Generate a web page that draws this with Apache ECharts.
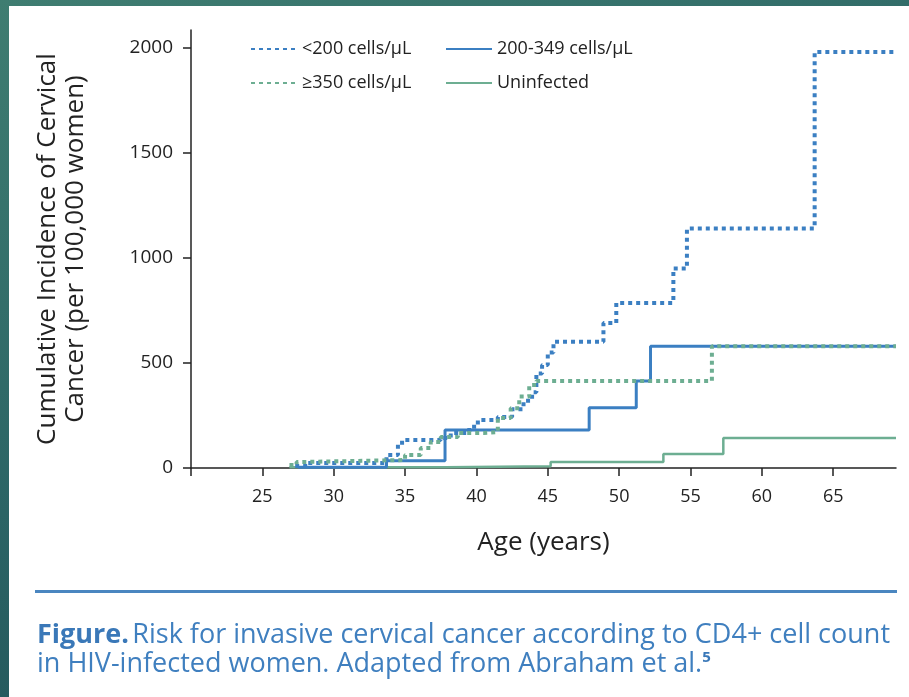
<!DOCTYPE html>
<html>
<head>
<meta charset="utf-8">
<script src="https://cdn.jsdelivr.net/npm/echarts@6/dist/echarts.min.js"></script>
<style>
  html, body { margin: 0; padding: 0; width: 909px; height: 697px; overflow: hidden;
    background: linear-gradient(160deg, #3f7d71 0%, #2b6465 50%, #1d4b52 100%); }
  #chart { position: absolute; left: 9px; top: 6px; width: 900px; height: 691px; background: #ffffff; }
</style>
</head>
<body>
<div id="chart"></div>
<script>
// ---- data ----
const seriesNames = ['<200 cells/\u03bcL', '200-349 cells/\u03bcL', '\u2265350 cells/\u03bcL', 'Uninfected'];
// [age, cumulative incidence per 100,000] step points (value holds from that age on)
const below200 = [[27.3, 10], [28.0, 24], [33.7, 62], [34.5, 120], [35.0, 133], [37.5, 143], [38.2, 167], [39.5, 196],
  [40.1, 228], [41.5, 243], [42.5, 280], [43.3, 320], [43.9, 360], [44.2, 450], [44.6, 490], [45.0, 550],
  [45.4, 601], [48.9, 690], [49.8, 786], [53.8, 950], [54.75, 1140], [63.7, 1980], [69.4, 1980]];
const mid200to349 = [[27.5, 3], [33.7, 35], [37.8, 181], [47.9, 287], [51.2, 414], [52.2, 580], [69.4, 580]];
const above350 = [[26.9, 14], [27.4, 29], [28.0, 38], [35.0, 62], [36.1, 95], [36.8, 124], [37.5, 148], [38.7, 167],
  [40.5, 171], [41.5, 238], [42.4, 285], [43.0, 340], [43.7, 395], [44.2, 414], [56.5, 580], [69.4, 580]];
const uninfected = [[26.9, 3], [37.8, 8], [45.2, 28], [53.1, 67], [57.3, 143], [69.4, 143]];
const xTickValues = [20, 25, 30, 35, 40, 45, 50, 55, 60, 65];
const xLabelValues = [25, 30, 35, 40, 45, 50, 55, 60, 65];
const yTickValues = [0, 500, 1000, 1500, 2000];
const xAxisName = 'Age (years)';
const yAxisName = 'Cumulative Incidence of Cervical\nCancer (per 100,000 women)';

const BLUE = '#3b7fc2';
const GREEN = '#6dae92';
const FONT = '"Open Sans", sans-serif';

const chart = echarts.init(document.getElementById('chart'), null, { renderer: 'canvas' });

function legendAt(name, left, top) {
  return {
    data: [name], left: left, top: top, itemWidth: 46, itemHeight: 14, itemGap: 0,
    itemStyle: { opacity: 0 },
    textStyle: { fontFamily: FONT, fontSize: 18, color: '#222' }, selectedMode: false
  };
}

const option = {
  animation: false,
  backgroundColor: '#ffffff',
  grid: { left: 182, right: 13, top: 24, bottom: 229, containLabel: false },
  legend: [
    legendAt(seriesNames[0], 236, 29),
    legendAt(seriesNames[1], 431, 29),
    legendAt(seriesNames[2], 236, 63),
    legendAt(seriesNames[3], 431, 63)
  ],
  xAxis: {
    type: 'value', min: 20, max: 69.4,
    name: xAxisName, nameLocation: 'middle', nameGap: 62,
    nameTextStyle: { fontFamily: FONT, fontSize: 26, color: '#222' },
    axisLine: { lineStyle: { color: '#222', width: 1.5 } },
    axisTick: { show: true, length: 8, lineStyle: { color: '#222', width: 1.5 }, customValues: xTickValues },
    axisLabel: { customValues: xLabelValues, fontFamily: FONT, fontSize: 18, color: '#222', margin: 20,
      formatter: v => String(v) },
    splitLine: { show: false }
  },
  yAxis: {
    type: 'value', min: 0, max: 2085,
    name: yAxisName, nameLocation: 'middle', nameGap: 101, nameRotate: 90,
    nameTextStyle: { fontFamily: FONT, fontSize: 26, color: '#222', lineHeight: 28 },
    axisLine: { show: true, lineStyle: { color: '#222', width: 1.5 } },
    axisTick: { show: true, length: 8, lineStyle: { color: '#222', width: 1.5 }, customValues: yTickValues },
    axisLabel: { customValues: yTickValues, fontFamily: FONT, fontSize: 19, color: '#222', margin: 18,
      formatter: v => String(v) },
    splitLine: { show: false }
  },
  series: [
    { name: seriesNames[0], type: 'line', step: 'end', data: below200, symbol: 'none', z: 4,
      color: BLUE, lineStyle: { color: BLUE, width: 4, type: [4, 4] } },
    { name: seriesNames[1], type: 'line', step: 'end', data: mid200to349, symbol: 'none', z: 3,
      color: BLUE, lineStyle: { color: BLUE, width: 3, type: 'solid' } },
    { name: seriesNames[2], type: 'line', step: 'end', data: above350, symbol: 'none', z: 5,
      color: GREEN, lineStyle: { color: GREEN, width: 4, type: [4, 4] } },
    { name: seriesNames[3], type: 'line', step: 'end', data: uninfected, symbol: 'none', z: 2,
      color: GREEN, lineStyle: { color: GREEN, width: 2.5, type: 'solid' } }
  ],
  graphic: [
    { type: 'rect', shape: { x: 26, y: 584, width: 862, height: 3 }, style: { fill: '#4a86c0' } },
    { type: 'text', left: 28, top: 615,
      style: {
        text: '{b|Figure.} {n|Risk for invasive cervical cancer according to CD4+ cell count}\n{n|in HIV-infected women. Adapted from Abraham et al.}{s|5}',
        fill: '#3f7fbf', lineHeight: 29,
        rich: {
          b: { fontFamily: FONT, fontSize: 27, fontWeight: 'bold', fill: '#3a78b8', lineHeight: 29 },
          n: { fontFamily: FONT, fontSize: 27, fill: '#3f7fbf', lineHeight: 29 },
          s: { fontFamily: FONT, fontSize: 15, fontWeight: 'bold', fill: '#3a78b8', verticalAlign: 'top', lineHeight: 29 }
        }
      }
    }
  ]
};
chart.setOption(option);
</script>
</body>
</html>
